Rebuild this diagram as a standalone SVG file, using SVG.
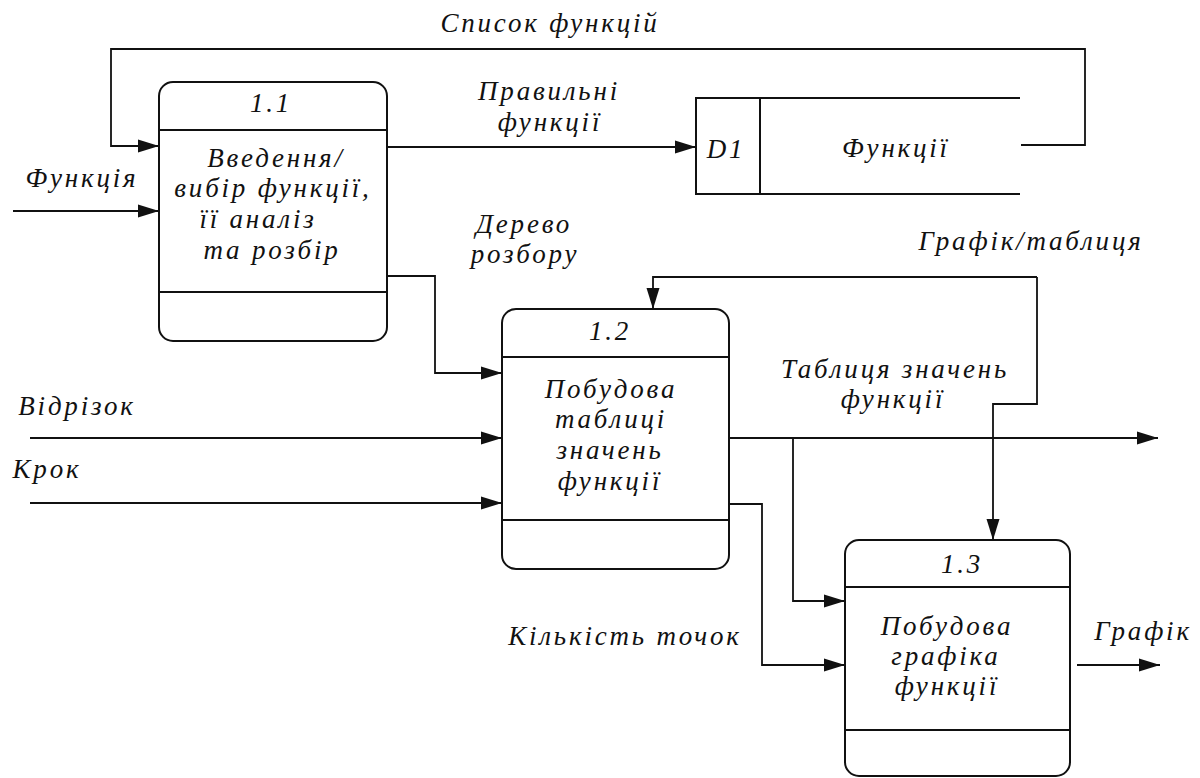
<svg xmlns="http://www.w3.org/2000/svg" width="1200" height="778" viewBox="0 0 1200 778">
  <style>
    .lbl { font-family: "Liberation Serif", "Times New Roman", serif; font-style: italic; font-size: 27px; letter-spacing: 2.8px; fill: #111; text-anchor: middle; }
    .box { fill: none; stroke: #111; stroke-width: 2; }
    .sep { stroke: #111; stroke-width: 2; }
    .flow-end { fill: none; stroke: #111; stroke-width: 1.8; marker-end: url(#arrow); }
  </style>
  <defs>
    <marker id="arrow" markerUnits="userSpaceOnUse" markerWidth="22" markerHeight="14" refX="21" refY="7" orient="auto">
      <path d="M0,0.5 L21,7 L0,13.5 z" fill="#111"/>
    </marker>
  </defs>

  <rect width="1200" height="778" fill="#fff"/>

  <!-- data flows -->
  <g id="connectors">
    <path class="flow-end" d="M1021,145 H1085 V49 H111 V146 H159"/>
    <path class="flow-end" d="M13,211 H159"/>
    <path class="flow-end" d="M387,147 H696"/>
    <path class="flow-end" d="M387,276 H435 V373 H502"/>
    <path class="flow-end" d="M1037,277 H653 V309"/>
    <path class="flow-end" d="M1037,277 V404 H993 V540"/>
    <path class="flow-end" d="M30,438 H502"/>
    <path class="flow-end" d="M30,503 H502"/>
    <path class="flow-end" d="M729,438 H1158"/>
    <path class="flow-end" d="M793,438 V601 H845"/>
    <path class="flow-end" d="M729,504 H762 V665 H845"/>
    <path class="flow-end" d="M1077,665 H1160"/>
  </g>

  <!-- flow labels -->
  <g id="flow-labels" class="lbl">
    <text x="550" y="32">Список функцій</text>
    <text x="82" y="187">Функція</text>
    <text x="549" y="100">Правильні</text>
    <text x="550" y="131">функції</text>
    <text x="524" y="233">Дерево</text>
    <text x="525" y="263">розбору</text>
    <text x="1031" y="250">Графік/таблиця</text>
    <text x="77" y="415">Відрізок</text>
    <text x="47" y="478">Крок</text>
    <text x="895" y="378">Таблиця значень</text>
    <text x="893" y="408">функції</text>
    <text x="625" y="645">Кількість точок</text>
    <text x="1143" y="640">Графік</text>
  </g>

  <!-- process 1.1 -->
  <g id="process-1-1">
    <rect class="box" x="159" y="82" width="228" height="259" rx="14" ry="14"/>
    <line class="sep" x1="159" y1="130" x2="387" y2="130"/>
    <line class="sep" x1="159" y1="292" x2="387" y2="292"/>
    <g class="lbl">
      <text x="271" y="112">1.1</text>
      <text x="276" y="167">Введення/</text>
      <text x="273" y="197">вибір функції,</text>
      <text x="258" y="228">її аналіз</text>
      <text x="272" y="259">та розбір</text>
    </g>
  </g>

  <!-- data store D1 -->
  <g id="store-d1">
    <path class="box" d="M1020,98 H696 V194 H1020"/>
    <line class="sep" x1="760" y1="98" x2="760" y2="194"/>
    <g class="lbl">
      <text x="726" y="158">D1</text>
      <text x="896" y="157">Функції</text>
    </g>
  </g>

  <!-- process 1.2 -->
  <g id="process-1-2">
    <rect class="box" x="502" y="309" width="227" height="260" rx="14" ry="14"/>
    <line class="sep" x1="502" y1="357" x2="729" y2="357"/>
    <line class="sep" x1="502" y1="520" x2="729" y2="520"/>
    <g class="lbl">
      <text x="610" y="340">1.2</text>
      <text x="611" y="398">Побудова</text>
      <text x="611" y="428">таблиці</text>
      <text x="610" y="459">значень</text>
      <text x="610" y="490">функції</text>
    </g>
  </g>

  <!-- process 1.3 -->
  <g id="process-1-3">
    <rect class="box" x="845" y="540" width="225" height="236" rx="14" ry="14"/>
    <line class="sep" x1="845" y1="587" x2="1070" y2="587"/>
    <line class="sep" x1="845" y1="730" x2="1070" y2="730"/>
    <g class="lbl">
      <text x="962" y="573">1.3</text>
      <text x="947" y="635">Побудова</text>
      <text x="946" y="665">графіка</text>
      <text x="947" y="695">функції</text>
    </g>
  </g>
</svg>
